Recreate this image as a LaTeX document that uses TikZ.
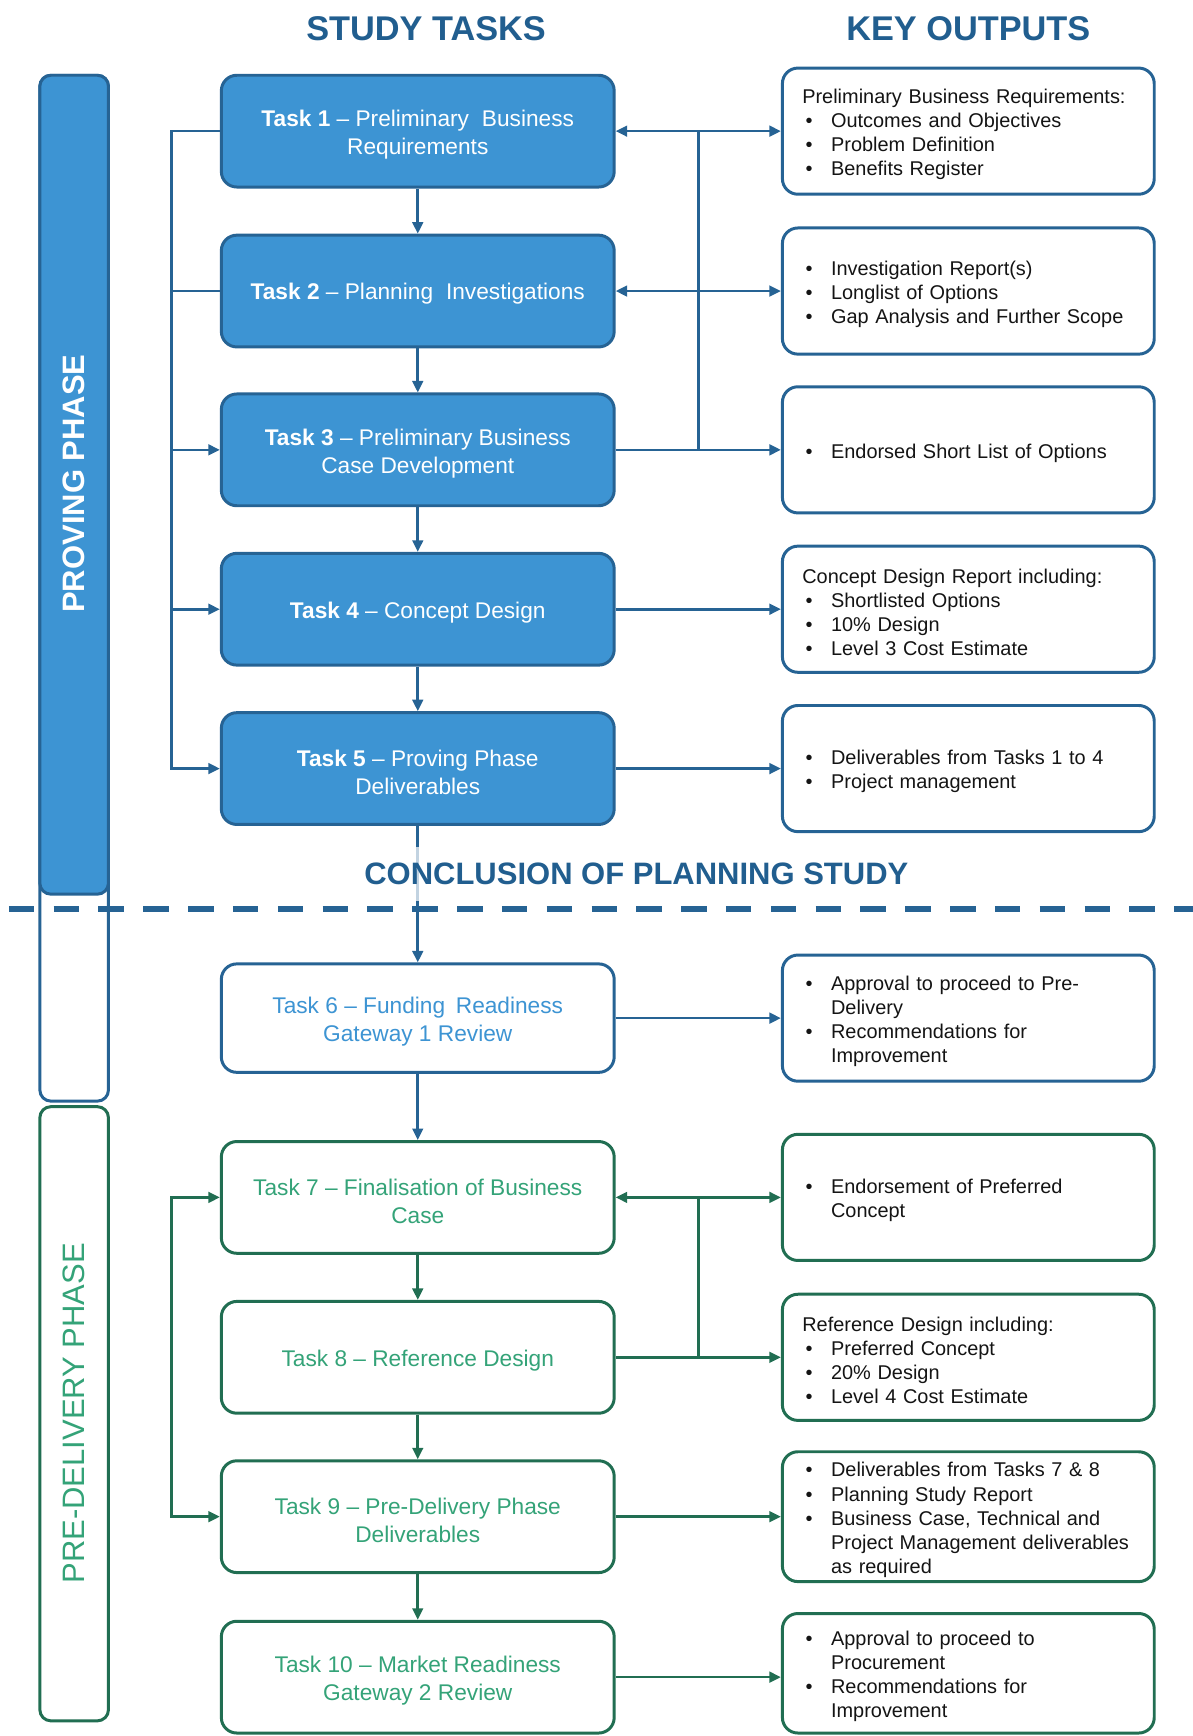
\documentclass[tikz,border=0pt]{standalone}
\usepackage{fontspec}
\setmainfont{Liberation Sans}
\usetikzlibrary{arrows.meta,calc}
\definecolor{bdark}{RGB}{38,99,148}
\definecolor{hdr}{RGB}{33,94,143}
\definecolor{bfill}{RGB}{61,148,211}
\definecolor{gdark}{RGB}{33,110,82}
\definecolor{gtext}{RGB}{52,163,120}
\definecolor{otext}{RGB}{20,20,20}
\newcommand\blt{\hspace*{1.5pt}\makebox[11.5pt][l]{\textbullet}}
\newcommand\cont{\hspace*{13pt}}
\newcommand\tfont{\fontsize{10.25}{12.8}\selectfont}
\newcommand\ofont{\fontsize{9}{10.85}\selectfont}
\newcommand\tup{\rule{0pt}{10.2pt}}
\newcommand\tuptwo{\rule{0pt}{10.8pt}}
\newcommand\oup{\rule{0pt}{9.4pt}}
\begin{document}
\begin{tikzpicture}[x=0.5pt,y=-0.5pt,
  >={Triangle[length=5.2pt,width=4.8pt]},
  tbox/.style={rounded corners=7pt, line width=1.35pt, minimum width=177.5pt, minimum height=50.5pt, align=center, font=\tfont, inner sep=2pt, execute at begin node=\tup},
  taskblue/.style={tbox, draw=bdark, fill=bfill, text=white},
  taskwhite/.style={tbox, draw=bdark, fill=white, text=bfill},
  taskgreen/.style={tbox, draw=gdark, fill=white, text=gtext},
  obox/.style={rounded corners=7pt, line width=1.35pt, fill=white, minimum width=168pt, minimum height=57pt, text width=150pt, inner xsep=9pt, inner ysep=2pt, align=left, font=\ofont, text=otext, execute at begin node=\oup},
  oblue/.style={obox, draw=bdark},
  ogreen/.style={obox, draw=gdark},
  conn/.style={line width=1.2pt, draw=bdark},
  gconn/.style={line width=1.2pt, draw=gdark},
  phasebar/.style={rounded corners=5pt, line width=1.35pt, minimum width=31pt, inner sep=0pt},
  header/.style={text=hdr, font=\bfseries\fontsize{15.5}{16}\selectfont}
]
\useasboundingbox (0,0) rectangle (1078,1568.7);

% headers
\node[header] (hst) at (385,26) {STUDY TASKS};
\node[header] (hko) at (875,26) {KEY OUTPUTS};

% phase bars
\node[phasebar, draw=bdark, fill=white, minimum height=463.5pt] (pbar) at (67,531.5) {};
\node[phasebar, draw=bdark, fill=bfill, minimum height=370pt] (pfill) at (67,438) {};
\node[rotate=90, text=white, font=\bfseries\fontsize{14}{14}\selectfont] (ptext) at (67,437) {PROVING PHASE};
\node[phasebar, draw=gdark, fill=white, minimum height=277.5pt] (dbar) at (67,1277.5) {};
\node[rotate=90, text=gtext, font=\fontsize{14}{14}\selectfont] (dtext) at (67,1277) {PRE-DELIVERY PHASE};

% tasks
\node[taskblue] (t1) at (377.5,118.5) {\tuptwo\textbf{Task 1} -- Preliminary\hspace{3pt} Business\\Requirements};
\node[taskblue] (t2) at (377.5,263) {\textbf{Task 2} -- Planning\hspace{3pt} Investigations};
\node[taskblue] (t3) at (377.5,406.5) {\tuptwo\textbf{Task 3} -- Preliminary Business\\Case Development};
\node[taskblue] (t4) at (377.5,550.5) {\textbf{Task 4} -- Concept Design};
\node[taskblue] (t5) at (377.5,694.5) {\tuptwo\textbf{Task 5} -- Proving Phase\\Deliverables};
\node[taskwhite, minimum height=49pt] (t6) at (377.5,920) {\tuptwo Task 6 -- Funding\hspace{2pt} Readiness\\Gateway 1 Review};
\node[taskgreen] (t7) at (377.5,1082) {\tuptwo Task 7 -- Finalisation of Business\\Case};
\node[taskgreen] (t8) at (377.5,1226.5) {Task 8 -- Reference Design};
\node[taskgreen] (t9) at (377.5,1370.5) {\tuptwo Task 9 -- Pre-Delivery Phase\\Deliverables};
\node[taskgreen] (t10) at (377.5,1515.5) {\tuptwo Task 10 -- Market Readiness\\Gateway 2 Review};

% outputs
\node[oblue] (o1) at (875,118.5) {Preliminary Business Requirements:\\\blt Outcomes and Objectives\\\blt Problem Definition\\\blt Benefits Register};
\node[oblue] (o2) at (875,263) {\blt Investigation Report(s)\\\blt Longlist of Options\\\blt Gap Analysis and Further Scope};
\node[oblue] (o3) at (875,406.5) {\blt Endorsed Short List of Options};
\node[oblue] (o4) at (875,550.5) {Concept Design Report including:\\\blt Shortlisted Options\\\blt 10\% Design\\\blt Level 3 Cost Estimate};
\node[oblue] (o5) at (875,694.5) {\blt Deliverables from Tasks 1 to 4\\\blt Project management};
\node[oblue] (o6) at (875,920) {\blt Approval to proceed to Pre-\\\cont Delivery\\\blt Recommendations for\\\cont Improvement};
\node[ogreen] (o7) at (875,1082) {\blt Endorsement of Preferred\\\cont Concept};
\node[ogreen] (o8) at (875,1226.5) {Reference Design including:\\\blt Preferred Concept\\\blt 20\% Design\\\blt Level 4 Cost Estimate};
\node[ogreen] (o9) at (875,1370.5) {\blt Deliverables from Tasks 7 \& 8\\\blt Planning Study Report\\\blt Business Case, Technical and\\\cont Project Management deliverables\\\cont as required};
\node[ogreen, minimum height=54pt] (o10) at (875,1512) {\blt Approval to proceed to\\\cont Procurement\\\blt Recommendations for\\\cont Improvement};

% helper coordinates
\coordinate (lx) at (155,0);
\coordinate (rx) at (631,0);

% proving phase connectors
\draw[conn,->] (t1.west) -- (t1.west -| lx) |- (t5.west);
\draw[conn] (t2.west) -- (t2.west -| lx);
\draw[conn,->] (t3.west -| lx) -- (t3.west);
\draw[conn,->] (t4.west -| lx) -- (t4.west);
\draw[conn,->] (t1.south) -- (t2.north);
\draw[conn,->] (t2.south) -- (t3.north);
\draw[conn,->] (t3.south) -- (t4.north);
\draw[conn,->] (t4.south) -- (t5.north);
\draw[conn,<->] (t1.east) -- (o1.west);
\draw[conn,<->] (t2.east) -- (o2.west);
\draw[conn,->] (t3.east) -- (o3.west);
\draw[conn] (t1.east -| rx) -- (t3.east -| rx);
\draw[conn,->] (t4.east) -- (o4.west);
\draw[conn,->] (t5.east) -- (o5.west);
\draw[conn,->] (t5.south) -- (t6.north);

% conclusion label
\node[fill=white, fill opacity=0.72, text opacity=1, text=hdr, minimum width=280pt, minimum height=24.5pt, inner sep=0pt, font=\bfseries\fontsize{14}{14}\selectfont] (concl) at (575,790) {CONCLUSION OF PLANNING STUDY};
\coordinate (dl) at (8,821.5);
\coordinate (dr) at (1078,821.5);
\draw[bdark, line width=2.6pt, dash pattern=on 11.5pt off 8.75pt] (dl) -- (dr);

% pre-delivery connectors
\draw[conn,->] (t6.east) -- (o6.west);
\draw[conn,->] (t6.south) -- (t7.north);
\draw[gconn,->] (t7.south) -- (t8.north);
\draw[gconn,->] (t8.south) -- (t9.north);
\draw[gconn,->] (t9.south) -- (t10.north);
\draw[gconn,<->] (t7.west) -- (t7.west -| lx) |- (t9.west);
\draw[gconn,<->] (t7.east) -- (o7.west);
\draw[gconn,->] (t8.east) -- (o8.west);
\draw[gconn] (t7.east -| rx) -- (t8.east -| rx);
\draw[gconn,->] (t9.east) -- (o9.west);
\draw[gconn,->] (t10.east) -- (t10.east -| o10.west);
\end{tikzpicture}
\end{document}
